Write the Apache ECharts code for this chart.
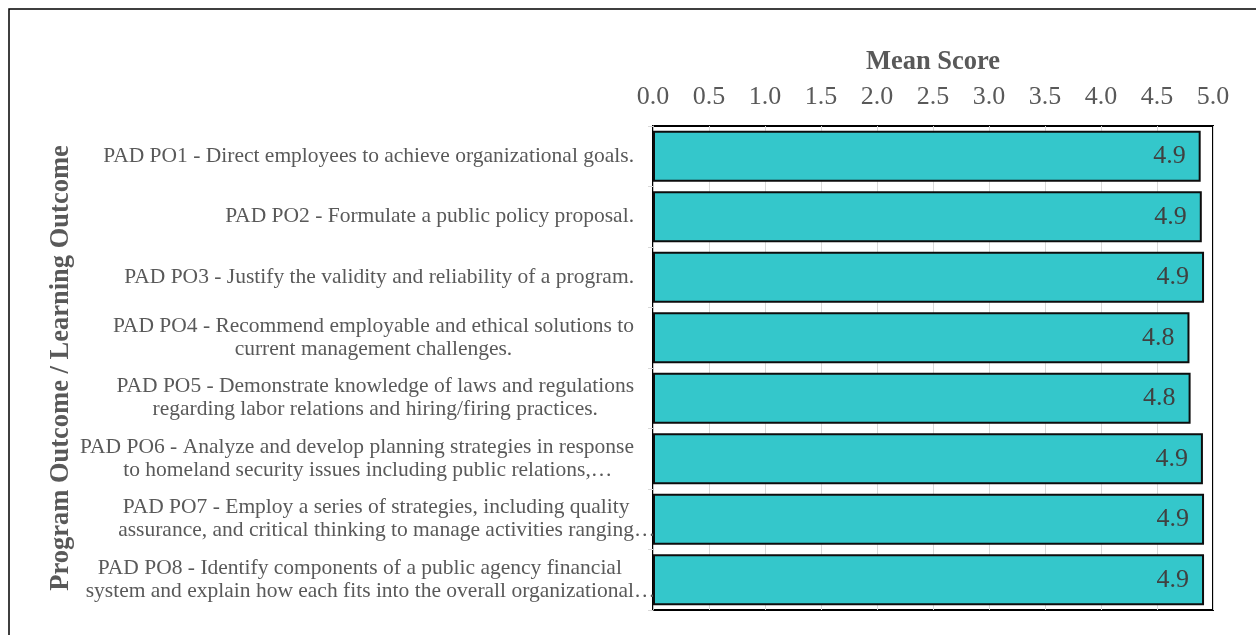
<!DOCTYPE html>
<html>
<head>
<meta charset="utf-8">
<script src="https://cdn.jsdelivr.net/npm/echarts@6/dist/echarts.min.js"></script>
<style>html,body{margin:0;padding:0;background:#fff}#c{width:1256px;height:635px}</style>
</head>
<body>
<div id="c"></div>
<script>
const categories = [
  "PAD PO1 - Direct employees to achieve organizational goals.",
  "PAD PO2 - Formulate a public policy proposal.",
  "PAD PO3 - Justify the validity and reliability of a program.",
  "PAD PO4 - Recommend employable and ethical solutions to\ncurrent management challenges.",
  "PAD PO5 - Demonstrate knowledge of laws and regulations\nregarding labor relations and hiring/firing practices.",
  "PAD PO6 - Analyze and develop planning strategies in response\nto homeland security issues including public relations,…",
  "PAD PO7 - Employ a series of strategies, including quality\nassurance, and critical thinking to manage activities ranging…",
  "PAD PO8 - Identify components of a public agency financial\nsystem and explain how each fits into the overall organizational…"
];
const meanScores = [4.89, 4.90, 4.92, 4.79, 4.80, 4.91, 4.92, 4.92];
const xTicks = { min: 0, max: 5, interval: 0.5 };
const xAxisTitle = "Mean Score";
const yAxisTitle = "Program Outcome / Learning Outcome";

const serif = '"Liberation Serif", "Times New Roman", serif';
const catFont = 21.5;
const chart = echarts.init(document.getElementById('c'), null, {renderer: 'canvas'});
chart.setOption({
  animation: false,
  backgroundColor: '#fff',
  graphic: [{
    type: 'rect', silent: true, z: -10,
    shape: {x: 9, y: 9, width: 1260, height: 640},
    style: {fill: 'none', stroke: '#000', lineWidth: 1.5}
  }],
  grid: {
    left: 653, right: 43, top: 126, bottom: 25,
    show: true, borderColor: '#000', borderWidth: 2, backgroundColor: 'transparent'
  },
  xAxis: {
    type: 'value', position: 'top',
    min: xTicks.min, max: xTicks.max, interval: xTicks.interval,
    name: xAxisTitle, nameLocation: 'middle', nameGap: 50,
    nameTextStyle: {fontFamily: serif, fontSize: 26.5, fontWeight: 'bold', color: '#595959'},
    axisLine: {show: false},
    axisTick: {show: false},
    axisLabel: {fontFamily: serif, fontSize: 26, color: '#595959', margin: 16,
      formatter: v => v.toFixed(1)},
    splitLine: {show: true, lineStyle: {color: '#d9d9d9', width: 1}}
  },
  yAxis: {
    type: 'category', inverse: true, data: categories,
    name: yAxisTitle, nameLocation: 'middle', nameRotate: 90, nameGap: 578,
    nameMoveOverlap: false,
    nameTextStyle: {fontFamily: serif, fontSize: 26.5, fontWeight: 'bold', color: '#595959'},
    axisLine: {show: true, lineStyle: {color: '#bfbfbf', width: 1}},
    axisTick: {show: true, length: 5, lineStyle: {color: '#d9d9d9'}},
    axisLabel: {
      margin: -2.5, align: 'right', lineHeight: 23,
      formatter: v => v.split('\n').map(s =>
        (s.endsWith('…') ? '{e|' : '{c|') + s + '}').join('\n'),
      rich: {
        c: {align: 'center', fontFamily: serif, fontSize: catFont, color: '#595959', lineHeight: 23, padding: [0, catFont, 0, 0]},
        e: {align: 'center', fontFamily: serif, fontSize: catFont, color: '#595959', lineHeight: 23}
      }
    }
  },
  series: [{
    type: 'bar', data: meanScores, barCategoryGap: '16%',
    itemStyle: {color: '#34C7CB', borderColor: '#0d0d0d', borderWidth: 2},
    label: {show: true, position: 'insideRight', distance: 15,
      formatter: p => p.value.toFixed(1),
      fontFamily: serif, fontSize: 26, color: '#404040'}
  }]
});
</script>
</body>
</html>
